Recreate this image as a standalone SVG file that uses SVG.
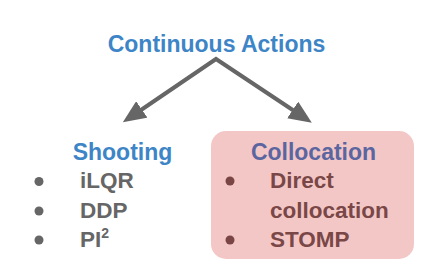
<svg xmlns="http://www.w3.org/2000/svg" width="435" height="279" viewBox="0 0 435 279">
<style>
  text { font-family: "Liberation Sans", Arial, sans-serif; font-weight: bold; }
  .title { font-size: 23px; fill: #3d85c6; }
  .item { font-size: 22.5px; fill: #666666; }
  .pitem { font-size: 22.5px; fill: #7a4747; }
  .dot { fill: #666666; }
  .pdot { fill: #7a4545; }
  .conn { fill: none; stroke: #666666; stroke-width: 4; stroke-linejoin: miter; }
</style>
<defs>
  <marker id="head" markerUnits="userSpaceOnUse" markerWidth="24" markerHeight="20" viewBox="0 0 24 20" refX="1" refY="10" orient="auto-start-reverse">
    <path d="M0,0 L23,10 L0,20 Z" fill="#666666"/>
  </marker>
</defs>
<rect width="435" height="279" fill="#ffffff"/>
<g id="connectors">
  <path class="conn" d="M141,110 L216,59 L293.5,110.5" marker-start="url(#head)" marker-end="url(#head)"/>
</g>
<g id="continuous-actions">
  <text class="title" x="216.5" y="52" text-anchor="middle">Continuous Actions</text>
</g>
<g id="shooting">
  <text class="title" x="122.5" y="160" text-anchor="middle">Shooting</text>
  <circle class="dot" cx="39" cy="181.5" r="4.5"/>
  <circle class="dot" cx="39" cy="211" r="4.5"/>
  <circle class="dot" cx="39" cy="240" r="4.5"/>
  <text class="item" x="80" y="188">iLQR</text>
  <text class="item" x="80" y="217.5">DDP</text>
  <text class="item" x="80" y="246.5">PI<tspan font-size="14" dy="-9">2</tspan></text>
</g>
<g id="collocation">
  <rect x="211" y="131" width="203" height="128" rx="15" ry="15" fill="#f4c7c7"/>
  <text class="title" x="313.5" y="160" text-anchor="middle" style="fill:#5b65a0">Collocation</text>
  <circle class="pdot" cx="230" cy="181" r="4.5"/>
  <circle class="pdot" cx="230" cy="240" r="4.5"/>
  <text class="pitem" x="270" y="187.5">Direct</text>
  <text class="pitem" x="270" y="217.5">collocation</text>
  <text class="pitem" x="270" y="247">STOMP</text>
</g>
</svg>
